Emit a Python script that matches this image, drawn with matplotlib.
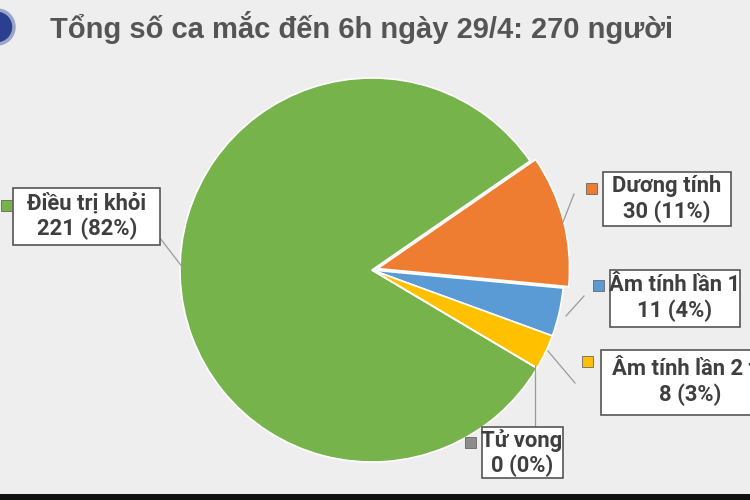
import matplotlib
matplotlib.use("Agg")
import matplotlib.pyplot as plt
from matplotlib.patches import Rectangle, Circle

title = "Tổng số ca mắc đến 6h ngày 29/4: 270 người"
categories = ["Điều trị khỏi", "Dương tính", "Âm tính lần 1", "Âm tính lần 2 trở lên", "Tử vong"]
values = [221, 30, 11, 8, 0]
pct_labels = ["221 (82%)", "30 (11%)", "11 (4%)", "8 (3%)", "0 (0%)"]
colors = ["#76b34a", "#ee7d31", "#5b9bd5", "#ffc000", "#8c8c8c"]

W, H = 750, 500
CX, CY, R = 372, 270, 192

fig = plt.figure(figsize=(7.5, 5), dpi=100)
fig.patch.set_facecolor("#eeeeee")
ax = fig.add_axes([0, 0, 1, 1])
ax.set_facecolor("#eeeeee")

def P(px, py):
    return ((px - CX) / R, (CY - py) / R)

total = sum(values)
start = 34.6 + values[0] / total * 360
wedges, _ = ax.pie(values, colors=colors, startangle=start, counterclock=False,
                   explode=[0, 0.03, 0, 0, 0], radius=1.0,
                   wedgeprops=dict(edgecolor="white", linewidth=1.2))
ax.set_xlim(-CX / R, (W - CX) / R)
ax.set_ylim(-(H - CY) / R, CY / R)
ax.set_aspect("auto")
ax.axis("off")

font = dict(family=["Roboto", "DejaVu Sans"], fontweight="bold", color="#3f3f3f", fontsize=15.8)

labels_spec = [
    dict(box=(13, 188, 160, 245), mk=(6, 205), tx=(87, 216), line=[(140, 212), (183, 268)], ha="center"),
    dict(box=(603, 172, 731, 226), mk=(591, 188), tx=(667, 199), line=[(574, 194), (563, 222)], ha="center"),
    dict(box=(610, 270, 740, 327), mk=(598, 285), tx=(675, 298), line=[(584, 296), (566, 316)], ha="center"),
    dict(box=(601, 350, 760, 415), mk=(587, 361), tx=(612, 382), line=[(575, 383), (548, 351)], ha="left"),
    dict(box=(482, 427, 563, 478), mk=(470, 442), tx=(522, 453), line=[(535, 427), (535, 366)], ha="center"),
]

for i, spec in enumerate(labels_spec):
    (la, lb) = spec["line"]
    xa, ya = P(*la)
    xb, yb = P(*lb)
    ax.plot([xa, xb], [ya, yb], color="#9a9a9a", lw=0.9, zorder=3)
    x0, y0, x1, y1 = spec["box"]
    bx, by = P(x0, y1)
    ax.add_patch(Rectangle((bx, by), (x1 - x0) / R, (y1 - y0) / R, facecolor="white",
                           edgecolor="#555555", lw=1.2, zorder=4))
    mx, my = P(*spec["mk"])
    s = 11 / R
    ax.add_patch(Rectangle((mx - s / 2, my - s / 2), s, s, facecolor=colors[i],
                           edgecolor="#666666", lw=0.6, zorder=5))
    tx, ty = P(*spec["tx"])
    if spec["ha"] == "left":
        ax.text(tx, ty + 13 / R, categories[i], ha="left", va="center", zorder=6, **font)
        ax.text(P(690, 0)[0], ty - 13 / R, pct_labels[i], ha="center", va="center", zorder=6, **font)
    else:
        ax.text(tx, ty, categories[i] + "\n" + pct_labels[i], ha="center", va="center",
                linespacing=1.15, zorder=6, **font)

# partial logo at left
lx, ly = P(-3, 27)
ax.add_patch(Circle((lx, ly), 17 / R, facecolor="#2a3f8f", edgecolor="#9aa6c8", lw=2.5, zorder=2))

# bottom dark band
bx, by = P(0, 500)
ax.add_patch(Rectangle((bx, by), W / R, 6 / R, facecolor="#111111", edgecolor="none", zorder=2))

fig.text(50 / W, 1 - 28 / H, title, ha="left", va="center", fontsize=21,
         fontweight="bold", color="#555555", family=["Liberation Sans", "DejaVu Sans"])

fig.savefig("out.png", dpi=100, facecolor=fig.get_facecolor())
